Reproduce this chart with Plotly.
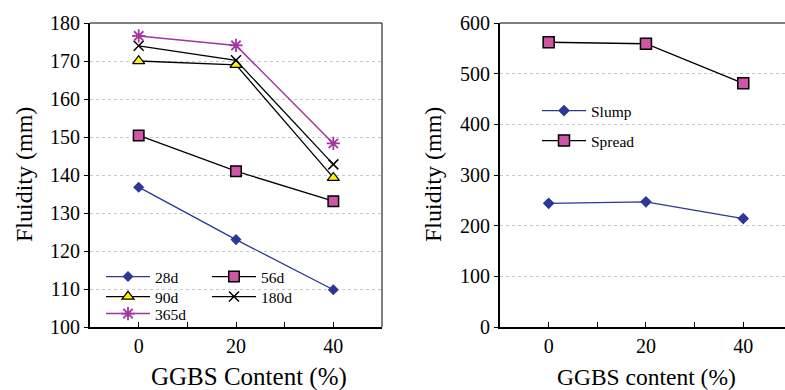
import plotly.graph_objects as go

# ---------------- data ----------------
ggbs = [0, 20, 40]
age_labels = ["28d", "56d", "90d", "180d", "365d"]
fluid_28d = [136.8, 123.0, 109.8]
fluid_56d = [150.4, 141.0, 133.1]
fluid_90d = [170.0, 169.0, 139.3]
fluid_180d = [174.0, 170.2, 142.8]
fluid_365d = [176.6, 174.1, 148.3]

slump = [244, 247, 214]
spread = [562, 559, 481]

x_tickvals = [0, 10, 20, 30, 40]
x_ticktext = ["0", "", "20", "", "40"]
y1_ticks = [100, 110, 120, 130, 140, 150, 160, 170, 180]
y2_ticks = [0, 100, 200, 300, 400, 500, 600]

# ---------------- style ----------------
FONT = "Liberation Serif, Times New Roman, DejaVu Serif, serif"
NAVY = "#2B3897"
MAGENTA = "#CE55A8"
PURPLE = "#A2359F"
YELLOW = "#FFF200"
W, H = 785, 390
PT, PB = 23, 327

def px(x):
    return x / W

def py(y):
    return (PB - y) / (PB - PT)

fig = go.Figure()

series = [
    ("28d", fluid_28d, dict(color=NAVY, width=1.3), dict(symbol="diamond", size=8.5, color=NAVY, line=dict(width=0)), "legend"),
    ("56d", fluid_56d, dict(color="black", width=1.3), dict(symbol="square", size=10.5, color=MAGENTA, line=dict(color="black", width=1.5)), "legend"),
    ("90d", fluid_90d, dict(color="black", width=1.3), dict(symbol="triangle-up", size=10.5, color=YELLOW, line=dict(color="black", width=1.2)), "legend2"),
    ("180d", fluid_180d, dict(color="black", width=1.3), dict(symbol="x-thin", size=10, color="black", line=dict(color="black", width=1.5)), "legend2"),
    ("365d", fluid_365d, dict(color=PURPLE, width=1.5), dict(symbol="asterisk", size=11, color=PURPLE, line=dict(color=PURPLE, width=1.8)), "legend3"),
]
for name, vals, ln, mk, lg in series:
    fig.add_trace(go.Scatter(x=ggbs, y=vals, name=name, mode="lines+markers",
                             line=ln, marker=mk, legend=lg, xaxis="x", yaxis="y"))

fig.add_trace(go.Scatter(x=ggbs, y=slump, name="Slump", mode="lines+markers",
                         line=dict(color=NAVY, width=1.3),
                         marker=dict(symbol="diamond", size=9, color=NAVY, line=dict(width=0)),
                         legend="legend4", xaxis="x2", yaxis="y2"))
fig.add_trace(go.Scatter(x=ggbs, y=spread, name="Spread", mode="lines+markers",
                         line=dict(color="black", width=1.3),
                         marker=dict(symbol="square", size=11, color=MAGENTA, line=dict(color="black", width=1.5)),
                         legend="legend5", xaxis="x2", yaxis="y2"))

tickfont = dict(family=FONT, size=20, color="black")
grid = dict(showgrid=True, gridcolor="#c8c8c8", griddash="3px,3px", gridwidth=1)

xcommon = dict(tickmode="array", tickvals=x_tickvals, ticktext=x_ticktext,
               ticks="inside", ticklen=5, tickwidth=1, tickcolor="black",
               showline=True, linewidth=2, linecolor="black", showgrid=False,
               zeroline=False, tickfont=tickfont, ticklabelstandoff=0)
ycommon = dict(ticks="outside", ticklen=4, tickwidth=1, tickcolor="black",
               showline=True, linewidth=2, linecolor="black", zeroline=False,
               tickfont=tickfont, **grid)

legfont = dict(family=FONT, size=15.5, color="black")
ITEMW = 44

def hleg(x, y, ew=47):
    return dict(x=x, y=y, xanchor="left", yanchor="middle", orientation="h",
                entrywidth=ew, entrywidthmode="pixels", bgcolor="rgba(0,0,0,0)",
                itemwidth=ITEMW, borderwidth=0, font=legfont, itemclick=False)

LEFT_LEG_X = 155 - (ITEMW + 10)
RIGHT_LEG_X = 591 - (ITEMW + 10)

fig.update_layout(
    width=W, height=H,
    margin=dict(l=0, r=0, t=PT, b=H - PB, pad=0),
    paper_bgcolor="white", plot_bgcolor="white",
    font=dict(family=FONT, color="black"),
    xaxis=dict(domain=[px(90), px(382)], range=[-10, 50], anchor="y", **xcommon),
    yaxis=dict(domain=[0, 1], range=[100, 180], tickvals=y1_ticks, anchor="x", **ycommon),
    xaxis2=dict(domain=[px(500), 1.0], range=[-10, 48.58], anchor="y2", **xcommon),
    yaxis2=dict(domain=[0, 1], range=[0, 600], tickvals=y2_ticks, anchor="x2", **ycommon),
    legend=hleg(px(LEFT_LEG_X), py(277)),
    legend2=hleg(px(LEFT_LEG_X), py(297)),
    legend3=hleg(px(LEFT_LEG_X), py(314)),
    legend4=hleg(px(RIGHT_LEG_X), py(111)),
    legend5=hleg(px(RIGHT_LEG_X), py(141)),
    showlegend=True,
)

# white legend backgrounds that only mask grid lines (drawn beneath the data)
fig.add_shape(type="rect", xref="paper", yref="paper", layer="between",
              x0=px(91), x1=px(293), y0=py(326), y1=py(266),
              line=dict(width=0), fillcolor="white")
fig.add_shape(type="rect", xref="paper", yref="paper", layer="between",
              x0=px(501), x1=px(650), y0=py(155), y1=py(95),
              line=dict(width=0), fillcolor="white")

# thin top / right frame lines
fig.add_shape(type="line", xref="x domain", yref="y domain", x0=0, x1=1, y0=1, y1=1,
              line=dict(color="black", width=1))
fig.add_shape(type="line", xref="x domain", yref="y domain", x0=1, x1=1, y0=0, y1=1,
              line=dict(color="black", width=1))
fig.add_shape(type="line", xref="x2 domain", yref="y2 domain", x0=0, x1=1, y0=1, y1=1,
              line=dict(color="black", width=1))

# axis titles
fig.add_annotation(text="GGBS Content (%)", xref="paper", yref="paper", x=px(249), y=py(377),
                   showarrow=False, font=dict(family=FONT, size=25, color="black"),
                   xanchor="center", yanchor="middle")
fig.add_annotation(text="GGBS content (%)", xref="paper", yref="paper", x=px(646), y=py(377),
                   showarrow=False, font=dict(family=FONT, size=23.5, color="black"),
                   xanchor="center", yanchor="middle")
fig.add_annotation(text="Fluidity (mm)", xref="paper", yref="paper", x=px(24), y=py(175),
                   showarrow=False, textangle=-90, font=dict(family=FONT, size=24, color="black"),
                   xanchor="center", yanchor="middle")
fig.add_annotation(text="Fluidity (mm)", xref="paper", yref="paper", x=px(433), y=py(175),
                   showarrow=False, textangle=-90, font=dict(family=FONT, size=24, color="black"),
                   xanchor="center", yanchor="middle")

fig.write_html("out.html", config={"displayModeBar": False},
               post_script="document.body.style.margin='0';")
